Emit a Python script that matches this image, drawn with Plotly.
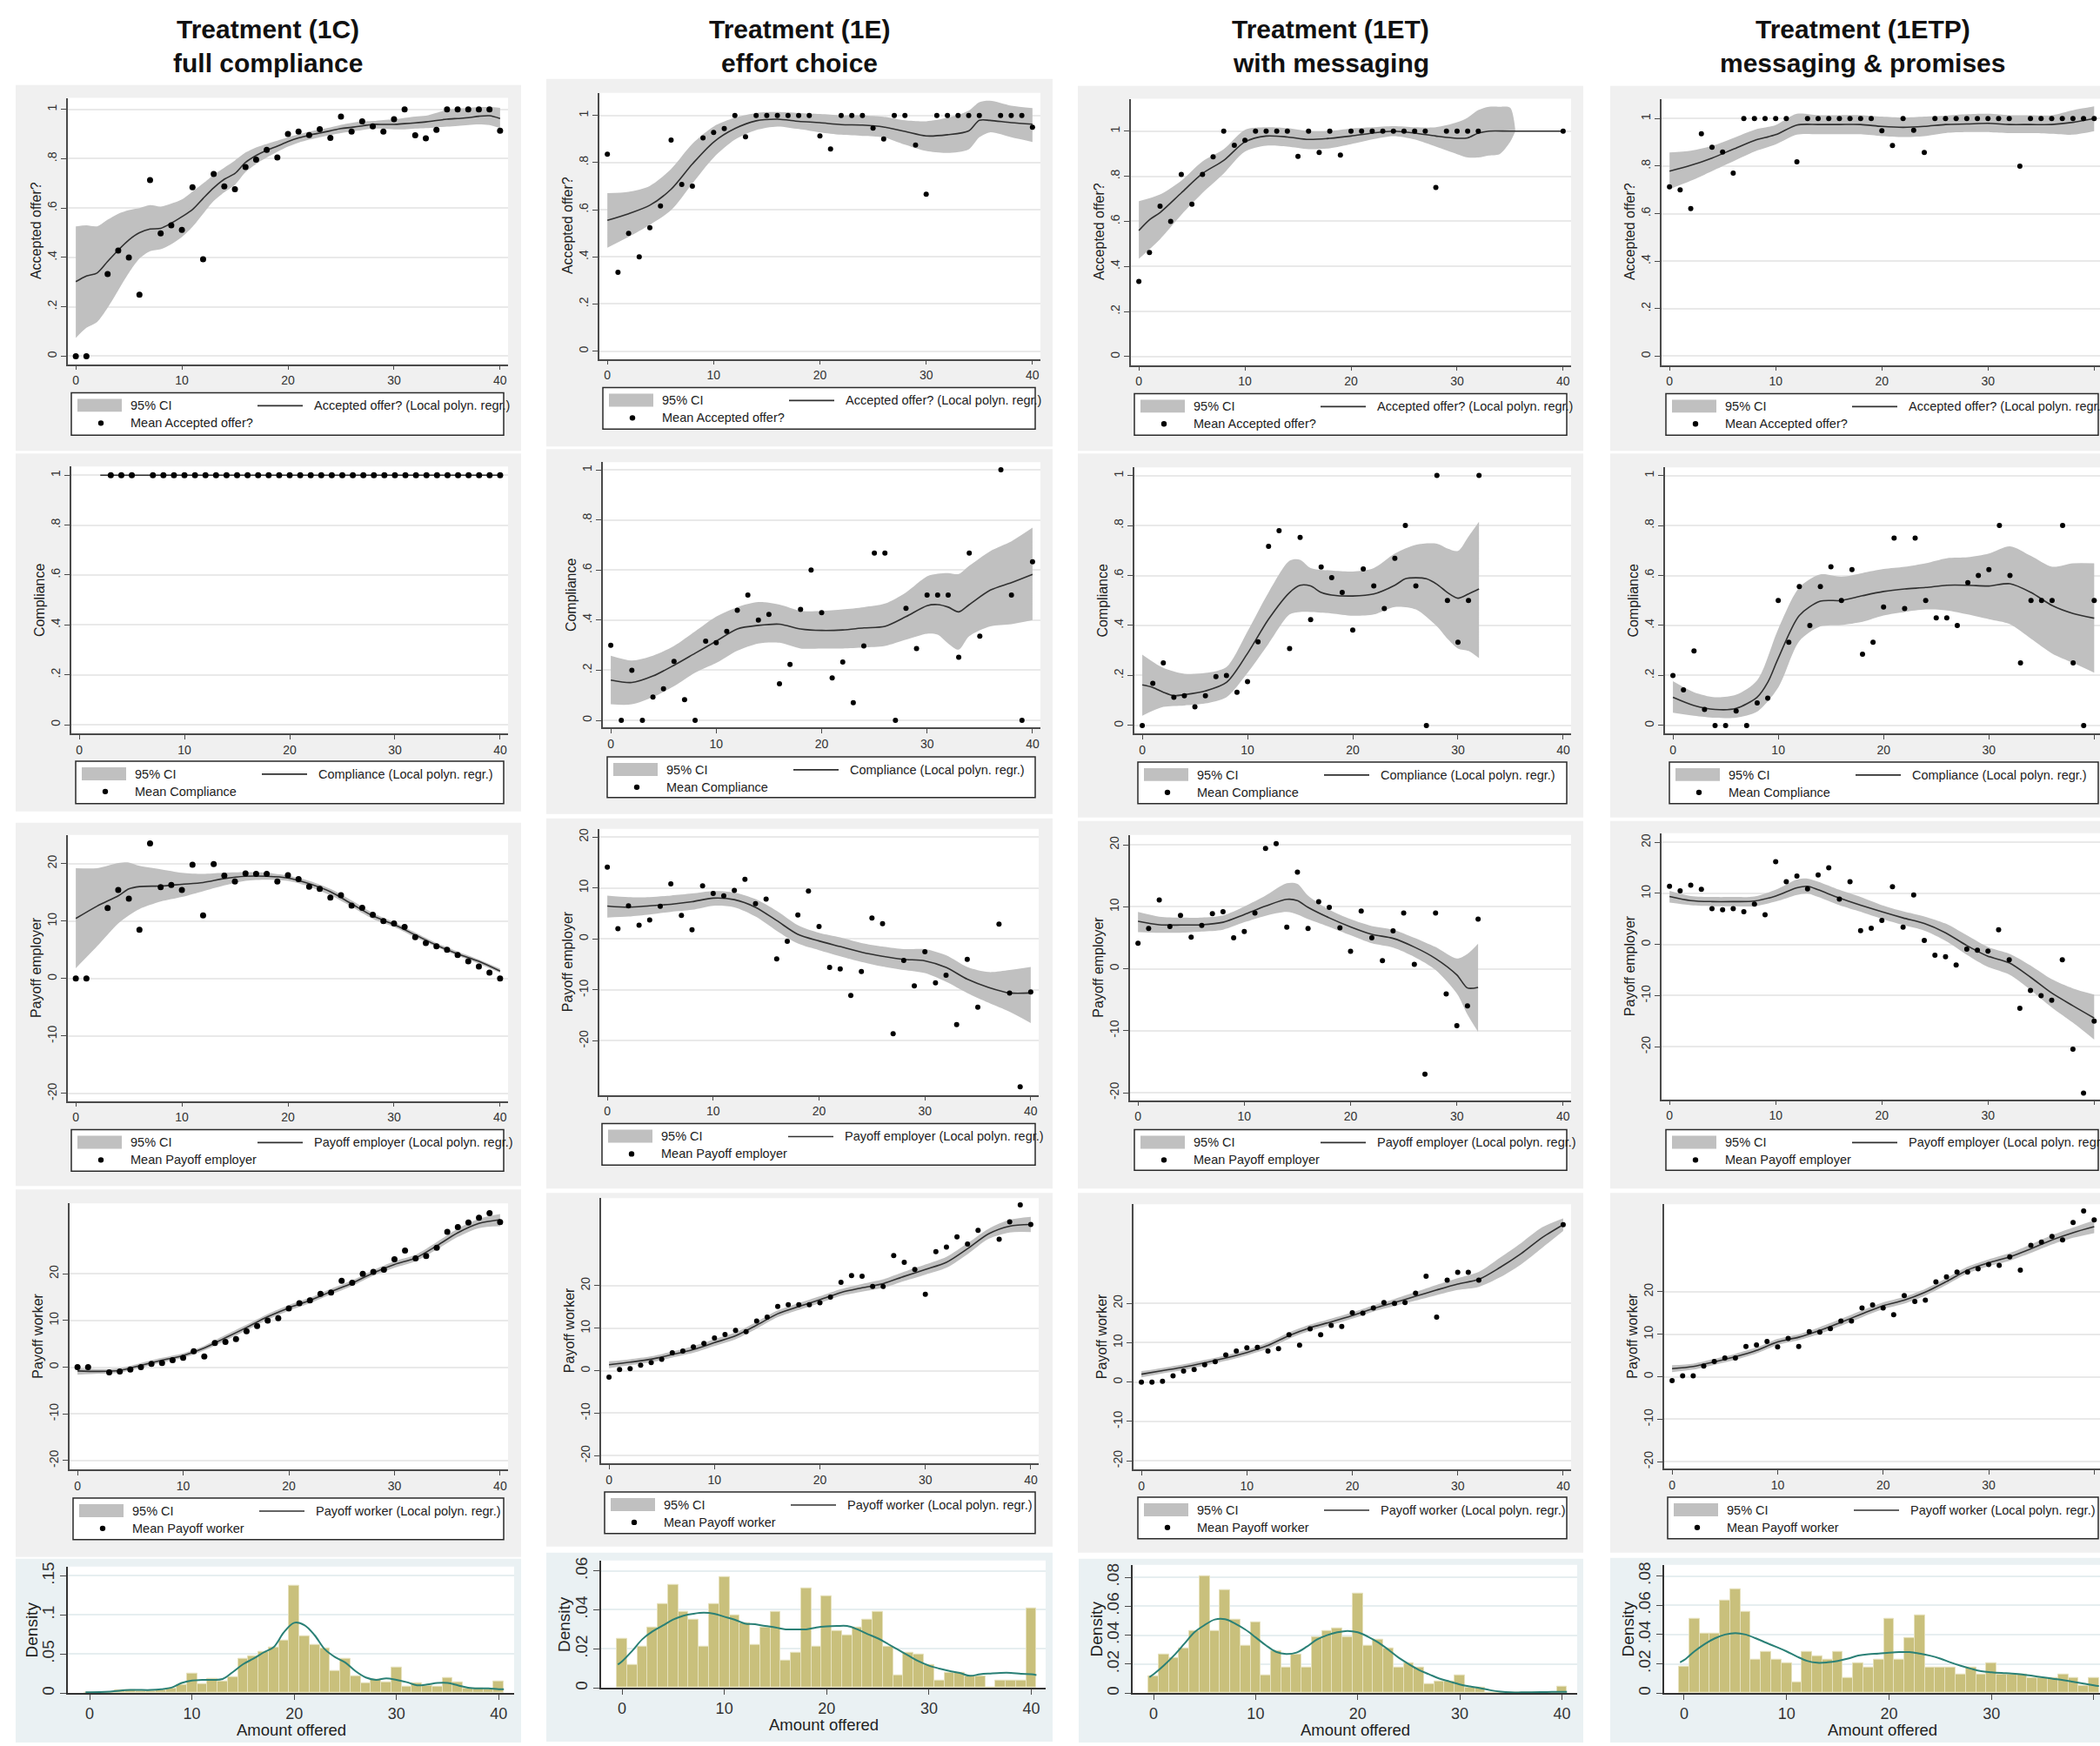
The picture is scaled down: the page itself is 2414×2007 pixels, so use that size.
import plotly.graph_objects as go

W, H = 2414, 2007
FONT = "Liberation Sans, Arial, sans-serif"

AMOUNT = list(range(41))
EVERY2 = list(range(0, 41, 2))
N = None

COL_TITLES = ["Treatment (1C)", "Treatment (1E)", "Treatment (1ET)", "Treatment (1ETP)"]
COL_SUBTITLES = ["full compliance", "effort choice", "with messaging", "messaging & promises"]
OUTCOMES = ["Accepted offer?", "Compliance", "Payoff employer", "Payoff worker"]
X_TICKS = [0, 10, 20, 30, 40]
SHARE_TICKS = [0, 0.2, 0.4, 0.6, 0.8, 1]
SHARE_LABELS = ["0", ".2", ".4", ".6", ".8", "1"]
PAY_TICKS = [-20, -10, 0, 10, 20]
PAY_LABELS = ["-20", "-10", "0", "10", "20"]
HIST_TICKS = [[0, 0.05, 0.1, 0.15], [0, 0.02, 0.04, 0.06],
              [0, 0.02, 0.04, 0.06, 0.08], [0, 0.02, 0.04, 0.06, 0.08]]
HIST_LABELS = [["0", ".05", ".1", ".15"], ["0", ".02", ".04", ".06"],
               ["0", ".02", ".04", ".06", ".08"], ["0", ".02", ".04", ".06", ".08"]]

# ---------------- Column 1: Treatment (1C) ----------------
c1_acc_pts = [0, 0, N, 0.333, 0.428, 0.40, 0.249, 0.713, 0.498, 0.53, 0.512, 0.684, 0.393, 0.738, 0.688,
              0.676, 0.766, 0.796, 0.836, 0.805, 0.90, 0.91, 0.896, 0.92, 0.884, 0.971, 0.91, 0.951, 0.931,
              0.91, 0.96, 1.0, 0.895, 0.883, 0.917, 1, 1, 1, 1, 1, 0.913]
c1_acc_fit = [0.302, 0.325, 0.337, 0.384, 0.43, 0.471, 0.50, 0.515, 0.518, 0.539, 0.565, 0.594, 0.639, 0.682,
              0.717, 0.74, 0.785, 0.813, 0.834, 0.851, 0.869, 0.884, 0.895, 0.904, 0.913, 0.922, 0.927, 0.933,
              0.939, 0.939, 0.939, 0.942, 0.945, 0.949, 0.955, 0.960, 0.963, 0.966, 0.972, 0.974, 0.963]
c1_acc_hi = [0.526, 0.53, 0.526, 0.553, 0.577, 0.592, 0.60, 0.612, 0.606, 0.618, 0.635, 0.667, 0.70, 0.735,
             0.764, 0.793, 0.825, 0.846, 0.86, 0.873, 0.887, 0.898, 0.91, 0.918, 0.927, 0.937, 0.945, 0.951,
             0.953, 0.957, 0.959, 0.965, 0.971, 0.974, 0.986, 0.998, 1.003, 1.006, 1.009, 1.009, 1.006]
c1_acc_lo = [0.074, 0.115, 0.138, 0.196, 0.267, 0.337, 0.395, 0.425, 0.433, 0.454, 0.483, 0.524, 0.577, 0.629,
             0.664, 0.694, 0.746, 0.779, 0.805, 0.828, 0.849, 0.865, 0.877, 0.887, 0.896, 0.904, 0.91, 0.916,
             0.922, 0.922, 0.919, 0.919, 0.922, 0.924, 0.927, 0.93, 0.933, 0.936, 0.939, 0.936, 0.924]

c1_comp_pts = [N, N, N, 1, 1, 1, N] + [1] * 34
c1_comp_x = [2, 40]
c1_comp_fit = [1, 1]
c1_comp_hi = [1, 1]
c1_comp_lo = [1, 1]

c1_emp_pts = [0, 0, N, 12.26, 15.4, 13.9, 8.5, 23.5, 15.9, 16.3, 15.4, 19.8, 11.0, 19.9, 17.9, 16.9, 18.3,
              18.2, 18.2, 16.9, 18.0, 17.3, 16.0, 15.6, 14.1, 14.5, 12.7, 12.3, 11.1, 10.0, 9.6, 9.0, 7.2,
              6.2, 5.6, 5.0, 4.1, 3.0, 2.1, 1.05, 0]
c1_emp_x = [0, 2, 4, 5, 6, 8, 10, 12, 14, 16, 18, 20, 22, 24, 26, 28, 30, 32, 34, 36, 38, 40]
c1_emp_fit = [10.45, 12.6, 14.4, 15.6, 16.0, 16.1, 16.4, 16.7, 17.4, 17.8, 17.8, 17.5, 16.5, 15.1, 13.0,
              10.9, 9.4, 7.6, 5.8, 4.3, 3.0, 1.3]
c1_emp_hi = [19.2, 19.2, 20.1, 20.2, 19.6, 19.0, 18.4, 18.2, 18.4, 18.5, 18.4, 17.9, 17.0, 15.6, 13.6, 11.4,
             9.8, 8.0, 6.2, 4.7, 3.3, 1.7]
c1_emp_lo = [1.8, 5.6, 9.6, 11.0, 12.1, 13.4, 14.2, 15.2, 16.2, 17.0, 17.2, 17.0, 16.0, 14.5, 12.5, 10.4,
             9.0, 7.2, 5.5, 4.0, 2.6, 1.0]

c1_wrk_pts = [0, 0, N, -1.1, -0.9, -0.5, 0, 0.7, 0.9, 1.5, 2.0, 3.4, 2.3, 5.2, 5.4, 6.0, 7.7, 8.8, 10.0,
              10.5, 12.6, 13.7, 14.3, 15.7, 16.0, 18.5, 18.1, 20.0, 20.4, 20.9, 23.1, 25.0, 23.3, 23.8, 25.6,
              29.0, 30.0, 31.0, 32.0, 33.0, 31.1]
c1_wrk_fit = [-0.8, -0.9, -0.7, 0.4, 1.5, 2.5, 4.1, 6.3, 8.5, 10.8, 12.7, 14.3, 16.2, 18.0, 20.2, 22.0, 23.4,
              26.0, 28.8, 30.8, 31.6]
c1_wrk_hi = [-0.2, -0.4, -0.2, 0.9, 2.0, 3.0, 4.6, 6.9, 9.1, 11.4, 13.3, 14.9, 16.8, 18.6, 20.8, 22.7, 24.1,
             26.8, 29.7, 31.8, 32.8]
c1_wrk_lo = [-1.6, -1.4, -1.2, -0.1, 1.0, 2.0, 3.6, 5.7, 7.9, 10.2, 12.1, 13.7, 15.6, 17.4, 19.6, 21.3, 22.7,
             25.2, 27.9, 29.8, 30.2]

c1_hist = [0.001, 0.001, 0, 0.004, 0.004, 0.003, 0.003, 0.004, 0.006, 0.011, 0.025, 0.012, 0.018, 0.015,
           0.021, 0.044, 0.047, 0.053, 0.059, 0.067, 0.138, 0.073, 0.062, 0.057, 0.028, 0.044, 0.022, 0.013,
           0.017, 0.014, 0.033, 0.008, 0.013, 0.010, 0.008, 0.020, 0.014, 0.006, 0.006, 0.005, 0.015]
c1_kde_x = [-0.4, 0, 2, 4, 6] + list(range(7, 41)) + [40.5]
c1_kde = [0.001, 0.001, 0.002, 0.004, 0.004, 0.005, 0.007, 0.013, 0.016, 0.017, 0.017, 0.018, 0.027, 0.037,
          0.044, 0.052, 0.059, 0.078, 0.090, 0.087, 0.074, 0.056, 0.046, 0.039, 0.028, 0.020, 0.017, 0.019,
          0.017, 0.014, 0.010, 0.011, 0.013, 0.013, 0.010, 0.007, 0.006, 0.006, 0.005, 0.005]

# ---------------- Column 2: Treatment (1E) ----------------
c2_acc_pts = [0.835, 0.334, 0.50, 0.40, 0.524, 0.616, 0.895, 0.707, 0.70, 0.905, 0.928, 0.944, 1, 0.909, 1,
              1, 1, 1, 1, 1, 0.913, 0.858, 1, 1, 1, 0.946, 0.90, 1, 1, 0.874, 0.666, 1, 1, 1, 1, 1, N, 1, 1,
              1, 0.95]
c2_acc_x = list(range(0, 35, 2)) + [35, 36, 38, 40]
c2_acc_fit = [0.555, 0.583, 0.619, 0.687, 0.794, 0.887, 0.944, 0.977, 0.984, 0.975, 0.969, 0.961, 0.959,
              0.951, 0.932, 0.913, 0.918, 0.934, 0.979, 0.979, 0.969, 0.963]
c2_acc_hi = [0.67, 0.676, 0.701, 0.773, 0.88, 0.953, 0.99, 1.01, 1.014, 1.01, 1.006, 1.0, 1.0, 0.994, 0.979,
             0.975, 0.99, 1.02, 1.056, 1.062, 1.041, 1.031]
c2_acc_lo = [0.439, 0.485, 0.536, 0.598, 0.711, 0.821, 0.897, 0.938, 0.953, 0.942, 0.928, 0.918, 0.913,
             0.907, 0.876, 0.849, 0.841, 0.856, 0.907, 0.928, 0.907, 0.887]

c2_comp_pts = [0.30, 0, 0.20, 0, 0.093, 0.126, 0.235, 0.083, 0, 0.316, 0.31, 0.355, 0.439, 0.50, 0.40, 0.423,
               0.146, 0.223, 0.443, 0.60, 0.43, 0.169, 0.233, 0.07, 0.297, 0.668, 0.668, 0, 0.447, 0.287,
               0.50, 0.50, 0.50, 0.252, 0.668, 0.336, N, 1.0, 0.50, 0, 0.633]
c2_comp_x = list(range(0, 31, 2)) + [31, 32, 33, 34, 36, 38, 40]
c2_comp_fit = [0.161, 0.151, 0.177, 0.22, 0.268, 0.316, 0.365, 0.379, 0.384, 0.365, 0.359, 0.361, 0.369,
               0.375, 0.414, 0.458, 0.462, 0.452, 0.433, 0.462, 0.52, 0.55, 0.583]
c2_comp_hi = [0.258, 0.239, 0.258, 0.297, 0.355, 0.414, 0.452, 0.472, 0.462, 0.437, 0.437, 0.443, 0.452,
              0.466, 0.511, 0.575, 0.585, 0.588, 0.584, 0.617, 0.676, 0.715, 0.769]
c2_comp_lo = [0.064, 0.064, 0.093, 0.136, 0.19, 0.229, 0.278, 0.307, 0.31, 0.287, 0.287, 0.287, 0.291,
              0.297, 0.322, 0.346, 0.342, 0.307, 0.282, 0.336, 0.375, 0.384, 0.40]

c2_emp_pts = [14.1, 2.0, 6.5, 2.7, 3.7, 6.4, 10.8, 4.6, 1.8, 10.4, 8.9, 8.45, 9.5, 11.7, 6.9, 7.8, -3.9,
              -0.45, 4.7, 9.4, 2.45, -5.6, -5.9, -11.1, -6.4, 4.1, 3.0, -18.6, -4.2, -9.2, -2.5, -8.6, -7.1,
              -16.8, -4.0, -13.4, N, 2.9, -10.6, -29.0, -10.4]
c2_emp_fit = [6.45, 6.2, 6.5, 6.8, 7.3, 8.0, 7.7, 6.2, 3.6, 0.9, -0.4, -1.5, -2.6, -3.4, -4.0, -4.3, -5.6,
              -7.9, -9.5, -10.6, -10.6]
c2_emp_hi = [8.5, 8.2, 8.2, 8.5, 8.9, 9.4, 9.1, 7.8, 5.5, 2.7, 1.2, 0.3, -0.8, -1.5, -2.0, -2.0, -3.2, -5.5,
             -6.5, -6.1, -5.5]
c2_emp_lo = [4.2, 4.4, 4.8, 5.3, 5.7, 6.5, 6.2, 4.4, 1.6, -0.9, -2.2, -3.4, -4.5, -5.4, -6.1, -6.7, -8.4,
             -10.6, -12.5, -14.3, -16.5]

c2_wrk_pts = [-1.5, 0.3, 0.5, 1.3, 1.9, 2.7, 4.2, 4.6, 5.6, 6.4, 7.7, 8.5, 9.5, 9.2, 11.7, 12.6, 15.1, 15.5,
              15.5, 15.5, 16.0, 17.3, 20.8, 22.4, 22.2, 19.8, 19.8, 27.1, 25.5, 23.8, 18.0, 28.0, 29.1, 31.5,
              29.8, 33.0, N, 30.9, 35.0, 39.0, 34.4]
c2_wrk_fit = [1.4, 2.0, 2.7, 3.8, 5.0, 6.6, 8.2, 10.7, 13.4, 15.1, 16.7, 18.4, 19.5, 20.5, 22.2, 23.8, 25.5,
              28.7, 32.2, 34.0, 34.4]
c2_wrk_hi = [2.2, 2.7, 3.4, 4.5, 5.8, 7.4, 9.0, 11.5, 14.2, 15.9, 17.5, 19.2, 20.4, 21.5, 23.3, 25.0, 26.8,
             30.0, 33.4, 35.5, 36.2]
c2_wrk_lo = [0.6, 1.3, 2.0, 3.1, 4.2, 5.8, 7.4, 9.9, 12.6, 14.3, 15.9, 17.6, 18.6, 19.5, 21.1, 22.6, 24.2,
             27.4, 31.0, 32.5, 32.6]

c2_hist = [0.025, 0.012, 0.021, 0.031, 0.043, 0.053, 0.039, 0.035, 0.021, 0.043, 0.057, 0.037, 0.033, 0.022,
           0.031, 0.039, 0.014, 0.018, 0.051, 0.021, 0.047, 0.029, 0.027, 0.031, 0.035, 0.039, 0.021, 0.0065,
           0.018, 0.017, 0.012, 0.004, 0.008, 0.008, 0.006, 0.006, 0, 0.004, 0.004, 0.004, 0.041]
c2_kde_x = [-0.4] + list(range(41)) + [40.5]
c2_kde = [0.012, 0.0136, 0.019, 0.025, 0.029, 0.032, 0.035, 0.037, 0.038, 0.0385, 0.038, 0.0365, 0.035,
          0.033, 0.0326, 0.0317, 0.031, 0.030, 0.030, 0.030, 0.031, 0.0315, 0.0317, 0.0317, 0.030, 0.0276,
          0.0254, 0.0225, 0.0195, 0.0165, 0.0136, 0.0114, 0.0099, 0.0087, 0.0077, 0.0062, 0.007, 0.0074,
          0.0077, 0.0077, 0.0072, 0.007, 0.0066]

# ---------------- Column 3: Treatment (1ET) ----------------
c3_acc_pts = [0.333, 0.462, 0.667, 0.60, 0.808, 0.676, 0.808, 0.886, 1, 0.937, 0.959, 1, 1, 1, 1, 0.888, 1,
              0.905, 1, 0.894, 1, 1, 1, 1, 1, 1, 1, 1, 0.75, 1, 1, 1, 1, N, N, N, N, N, N, N, 1]
c3_acc_x = [0, 1, 2, 4, 6, 8, 10, 12, 14, 16, 18, 20, 22, 24, 26, 28, 30, 31, 32, 33, 35, 40]
c3_acc_fit = [0.559, 0.607, 0.639, 0.726, 0.812, 0.87, 0.952, 0.978, 0.974, 0.963, 0.968, 0.978, 0.991, 1.0,
              0.991, 0.978, 0.968, 0.97, 0.991, 1.0, 1.0, 1.0]
c3_acc_bx = list(range(0, 31, 2)) + [31, 32, 33, 34, 35, 35.5]
c3_acc_hi = [0.689, 0.719, 0.78, 0.866, 0.92, 1.006, 1.017, 1.013, 1.0, 1.0, 1.011, 1.017, 1.022, 1.017,
             1.017, 1.039, 1.06, 1.093, 1.108, 1.108, 1.104, 1.0]
c3_acc_lo = [0.434, 0.521, 0.629, 0.726, 0.812, 0.909, 0.935, 0.931, 0.92, 0.924, 0.942, 0.963, 0.978, 0.963,
             0.931, 0.898, 0.883, 0.883, 0.892, 0.898, 0.952, 1.0]

c3_comp_pts = [0, 0.168, 0.25, 0.113, 0.119, 0.074, 0.119, 0.195, 0.20, 0.133, 0.175, 0.335, 0.717, 0.779,
               0.308, 0.752, 0.423, 0.634, 0.591, 0.532, 0.382, 0.626, 0.558, 0.468, 0.669, 0.80, 0.558, 0, 1,
               0.50, 0.333, 0.50, 1, N, N, N, N, N, N, N, N]
c3_comp_x = [0, 1, 2, 3, 4, 6, 8, 10, 12, 14, 15, 16, 17, 18, 20, 22, 24, 25, 26, 27, 28, 29, 30, 31, 32]
c3_comp_fit = [0.162, 0.152, 0.133, 0.119, 0.123, 0.138, 0.172, 0.288, 0.425, 0.532, 0.561, 0.558, 0.532,
               0.522, 0.518, 0.526, 0.561, 0.587, 0.591, 0.587, 0.565, 0.532, 0.509, 0.526, 0.546]
c3_comp_bx = [0, 2, 4, 6, 8, 10, 12, 14, 15, 16, 18, 20, 22, 24, 26, 28, 29, 30, 31, 32]
c3_comp_hi = [0.283, 0.23, 0.207, 0.21, 0.234, 0.376, 0.532, 0.659, 0.663, 0.63, 0.62, 0.616, 0.63, 0.688,
              0.723, 0.727, 0.708, 0.698, 0.756, 0.815]
c3_comp_lo = [0.039, 0.074, 0.08, 0.088, 0.113, 0.21, 0.327, 0.444, 0.454, 0.454, 0.448, 0.439, 0.444, 0.474,
              0.464, 0.396, 0.347, 0.308, 0.298, 0.269]

c3_emp_pts = [4.1, 6.5, 11.1, 6.8, 8.6, 5.1, 7.0, 8.9, 9.2, 5.0, 6.0, 9.0, 19.4, 20.2, 6.7, 15.6, 6.5, 10.8,
              9.9, 6.6, 2.8, 9.3, 5.0, 1.3, 6.1, 9.0, 0.7, -17.0, 9.0, -4.05, -9.2, -6.0, 8.0,
              N, N, N, N, N, N, N, N]
c3_emp_x = [0, 2, 4, 6, 8, 10, 12, 14, 15, 16, 18, 20, 22, 24, 26, 28, 30, 31, 32]
c3_emp_fit = [7.65, 7.1, 7.05, 7.1, 7.5, 8.75, 10.1, 11.2, 11.0, 9.9, 8.2, 6.75, 5.55, 4.9, 3.5, 1.65, -1.0,
              -3.1, -3.0]
c3_emp_hi = [9.15, 8.4, 8.25, 8.25, 8.6, 10.05, 11.8, 13.8, 13.7, 11.8, 9.5, 8.0, 6.9, 6.3, 5.0, 3.5, 1.65,
             2.4, 4.05]
c3_emp_lo = [5.9, 5.8, 5.8, 6.0, 6.3, 7.5, 8.55, 9.15, 8.75, 8.0, 6.75, 5.4, 4.1, 3.4, 1.9, -0.2, -4.0, -7.4,
             -10.2]

c3_wrk_pts = [0, 0, 0.2, 1.6, 2.8, 3.2, 4.4, 5.2, 6.9, 7.9, 8.7, 8.8, 7.9, 8.5, 12.0, 9.4, 13.5, 12.0, 14.4,
              14.1, 17.6, 17.5, 18.8, 20.2, 20.0, 20.2, 22.6, 26.9, 16.5, 25.9, 27.9, 27.9, 25.9,
              N, N, N, N, N, N, N, 40.0]
c3_wrk_fit = [2.0, 2.9, 3.8, 4.9, 6.1, 7.5, 9.3, 11.8, 13.8, 15.3, 16.9, 18.7, 20.2, 21.8, 23.4, 24.9, 26.1,
              29.1, 32.6, 36.7, 40.0]
c3_wrk_hi = [2.8, 3.6, 4.5, 5.6, 6.8, 8.2, 10.1, 12.6, 14.6, 16.1, 17.7, 19.5, 21.1, 22.9, 24.7, 26.4, 28.0,
             31.6, 35.3, 39.3, 41.6]
c3_wrk_lo = [1.2, 2.2, 3.1, 4.2, 5.4, 6.8, 8.5, 11.0, 13.0, 14.5, 16.1, 17.9, 19.3, 20.7, 22.1, 23.4, 24.2,
             26.6, 29.9, 34.1, 38.4]

c3_hist = [0.012, 0.0265, 0.0245, 0.031, 0.043, 0.081, 0.043, 0.071, 0.051, 0.0325, 0.049, 0.0124, 0.029,
           0.018, 0.0265, 0.018, 0.0385, 0.043, 0.045, 0.0385, 0.069, 0.0325, 0.037, 0.031, 0.018, 0.0205,
           0.018, 0.0064, 0.0084, 0.0084, 0.0124, 0.004, 0.004, 0, 0, 0, 0, 0, 0, 0, 0.0044]
c3_kde_x = [-0.4] + list(range(41)) + [40.5]
c3_kde = [0.011, 0.013, 0.019, 0.026, 0.034, 0.042, 0.047, 0.0508, 0.051, 0.048, 0.0438, 0.0385, 0.033,
          0.0285, 0.027, 0.028, 0.032, 0.037, 0.040, 0.042, 0.043, 0.042, 0.039, 0.035, 0.030, 0.0245, 0.020,
          0.016, 0.013, 0.010, 0.008, 0.006, 0.0046, 0.0034, 0.002, 0.001, 0.0005, 0.0005, 0.0006, 0.0007,
          0.0008, 0.0009, 0.0009]

# ---------------- Column 4: Treatment (1ETP) ----------------
c4_acc_pts = [0.713, 0.70, 0.621, 0.936, 0.879, 0.859, 0.77, 1, 1, 1, 1, 1, 0.818, 1, 1, 1, 1, 1, 1, 1,
              0.949, 0.887, 1, 0.951, 0.857, 1, 1, 1, 1, 1, 1, 1, 1, 0.80, 1, 1, 1, 1, 1, 1, 1]
c4_acc_fit = [0.779, 0.803, 0.834, 0.871, 0.908, 0.932, 0.973, 0.975, 0.975, 0.975, 0.967, 0.963, 0.967,
              0.975, 0.977, 0.98, 0.975, 0.975, 0.975, 0.984, 1.0]
c4_acc_hi = [0.857, 0.865, 0.885, 0.918, 0.953, 0.973, 1.02, 1.014, 1.014, 1.014, 1.008, 1.004, 1.008, 1.012,
             1.018, 1.02, 1.014, 1.014, 1.014, 1.035, 1.051]
c4_acc_lo = [0.703, 0.738, 0.779, 0.82, 0.861, 0.891, 0.932, 0.934, 0.934, 0.934, 0.926, 0.922, 0.926, 0.939,
             0.943, 0.943, 0.939, 0.939, 0.936, 0.932, 0.947]

c4_comp_pts = [0.20, 0.142, 0.298, 0.064, 0, 0, 0.058, 0, 0.09, 0.109, 0.50, 0.333, 0.556, 0.40, 0.556,
               0.635, 0.50, 0.624, 0.285, 0.333, 0.474, 0.75, 0.468, 0.75, 0.50, 0.43, 0.43, 0.40, 0.571,
               0.60, 0.624, 0.80, 0.60, 0.25, 0.50, 0.50, 0.50, 0.80, 0.25, 0, 0.50]
c4_comp_x = [0, 2, 4, 6, 8, 9, 10, 12, 14, 16, 18, 20, 22, 24, 26, 28, 30, 32, 34, 36, 38, 40]
c4_comp_fit = [0.113, 0.08, 0.064, 0.068, 0.113, 0.172, 0.269, 0.44, 0.497, 0.50, 0.519, 0.536, 0.546,
               0.552, 0.561, 0.561, 0.558, 0.567, 0.532, 0.48, 0.448, 0.429]
c4_comp_hi = [0.177, 0.133, 0.113, 0.123, 0.181, 0.386, 0.552, 0.604, 0.595, 0.61, 0.626, 0.635, 0.649,
              0.669, 0.673, 0.688, 0.717, 0.678, 0.635, 0.649, 0.649]
c4_comp_lo = [0.051, 0.039, 0.031, 0.031, 0.055, 0.152, 0.337, 0.396, 0.402, 0.415, 0.44, 0.454, 0.464,
              0.46, 0.444, 0.425, 0.405, 0.347, 0.288, 0.25, 0.211]

c4_emp_pts = [11.4, 10.5, 11.6, 10.8, 7.0, 6.8, 7.0, 6.4, 7.9, 5.8, 16.2, 12.3, 13.4, 10.9, 13.6, 15.0, 8.9,
              12.3, 2.7, 3.2, 4.7, 11.3, 3.4, 9.7, 0.8, -2.1, -2.4, -4.0, -0.9, -1.1, -1.3, 2.9, -3.0, -12.5,
              -9.0, -10.0, -10.9, -3.0, -20.5, -29.1, -15.0]
c4_emp_x = [0, 2, 4, 6, 8, 10, 12, 13] + list(range(14, 41, 2))
c4_emp_fit = [9.4, 8.6, 8.4, 8.4, 8.5, 9.5, 11.1, 11.4, 10.7, 9.1, 7.7, 6.4, 5.2, 4.1, 2.3, -0.2, -2.3, -3.6,
              -6.4, -9.5, -12.0, -14.4]
c4_emp_hi = [10.5, 9.5, 9.3, 9.3, 9.4, 10.7, 12.7, 12.9, 12.3, 10.7, 9.3, 7.7, 6.5, 5.5, 4.1, 1.8, -0.5,
             -1.8, -4.1, -6.8, -8.6, -9.8]
c4_emp_lo = [8.2, 7.7, 7.5, 7.5, 7.5, 8.4, 9.7, 10.0, 9.3, 7.7, 6.4, 5.0, 3.8, 2.7, 0.7, -2.0, -4.4, -5.9,
             -8.9, -12.3, -15.3, -18.6]

c4_wrk_pts = [-0.9, 0.2, 0.2, 2.5, 3.6, 4.4, 4.4, 7.1, 7.5, 8.3, 7.0, 9.0, 7.1, 10.6, 10.5, 11.3, 13.1, 13.1,
              16.2, 16.9, 16.2, 14.6, 19.1, 17.7, 18.0, 22.3, 23.5, 24.6, 24.6, 25.4, 26.4, 26.2, 28.2, 25.1,
              30.9, 31.7, 33.0, 32.2, 36.3, 39.0, 36.9]
c4_wrk_fit = [1.9, 2.4, 3.5, 4.7, 6.2, 8.2, 9.3, 10.9, 12.8, 14.8, 16.7, 18.0, 19.9, 22.4, 25.1, 26.8, 28.2,
              30.1, 32.2, 33.9, 35.3]
c4_wrk_hi = [2.7, 3.1, 4.2, 5.4, 6.9, 8.9, 10.0, 11.7, 13.6, 15.6, 17.5, 18.8, 20.7, 23.2, 25.9, 27.6, 29.1,
             31.1, 33.3, 35.1, 36.8]
c4_wrk_lo = [1.1, 1.7, 2.8, 4.0, 5.5, 7.5, 8.6, 10.1, 12.0, 14.0, 15.9, 17.2, 19.1, 21.6, 24.3, 26.0, 27.3,
             29.1, 31.1, 32.7, 33.8]

c4_hist = [0.018, 0.0506, 0.0407, 0.0407, 0.063, 0.071, 0.0557, 0.0226, 0.028, 0.0226, 0.0207, 0.0075, 0.028,
           0.025, 0.0226, 0.028, 0.0104, 0.0207, 0.0177, 0.0226, 0.0506, 0.0226, 0.038, 0.053, 0.0177, 0.0177,
           0.0177, 0.0128, 0.0177, 0.0128, 0.0207, 0.0128, 0.0128, 0.0128, 0.0104, 0.0104, 0.0104, 0.0128,
           0.0104, 0.0053, 0.0104]
c4_kde_x = [-0.4] + list(range(41)) + [40.5]
c4_kde = [0.021, 0.0226, 0.0285, 0.0335, 0.0374, 0.040, 0.041, 0.040, 0.0374, 0.0344, 0.0315, 0.0285, 0.025,
          0.022, 0.0207, 0.021, 0.022, 0.0236, 0.0256, 0.0266, 0.027, 0.0276, 0.028, 0.028, 0.027, 0.0256,
          0.0236, 0.021, 0.0187, 0.0167, 0.015, 0.0143, 0.0138, 0.0134, 0.0128, 0.0118, 0.0108, 0.0098,
          0.0089, 0.0077, 0.0065, 0.0053, 0.0048]

# ---------------- assembling tables ----------------
PANELS = [
    [dict(pts=c1_acc_pts, fx=AMOUNT, fit=c1_acc_fit, bx=AMOUNT, lo=c1_acc_lo, hi=c1_acc_hi),
     dict(pts=c1_comp_pts, fx=c1_comp_x, fit=c1_comp_fit, bx=c1_comp_x, lo=c1_comp_lo, hi=c1_comp_hi),
     dict(pts=c1_emp_pts, fx=c1_emp_x, fit=c1_emp_fit, bx=c1_emp_x, lo=c1_emp_lo, hi=c1_emp_hi),
     dict(pts=c1_wrk_pts, fx=EVERY2, fit=c1_wrk_fit, bx=EVERY2, lo=c1_wrk_lo, hi=c1_wrk_hi)],
    [dict(pts=c2_acc_pts, fx=c2_acc_x, fit=c2_acc_fit, bx=c2_acc_x, lo=c2_acc_lo, hi=c2_acc_hi),
     dict(pts=c2_comp_pts, fx=c2_comp_x, fit=c2_comp_fit, bx=c2_comp_x, lo=c2_comp_lo, hi=c2_comp_hi),
     dict(pts=c2_emp_pts, fx=EVERY2, fit=c2_emp_fit, bx=EVERY2, lo=c2_emp_lo, hi=c2_emp_hi),
     dict(pts=c2_wrk_pts, fx=EVERY2, fit=c2_wrk_fit, bx=EVERY2, lo=c2_wrk_lo, hi=c2_wrk_hi)],
    [dict(pts=c3_acc_pts, fx=c3_acc_x, fit=c3_acc_fit, bx=c3_acc_bx, lo=c3_acc_lo, hi=c3_acc_hi),
     dict(pts=c3_comp_pts, fx=c3_comp_x, fit=c3_comp_fit, bx=c3_comp_bx, lo=c3_comp_lo, hi=c3_comp_hi),
     dict(pts=c3_emp_pts, fx=c3_emp_x, fit=c3_emp_fit, bx=c3_emp_x, lo=c3_emp_lo, hi=c3_emp_hi),
     dict(pts=c3_wrk_pts, fx=EVERY2, fit=c3_wrk_fit, bx=EVERY2, lo=c3_wrk_lo, hi=c3_wrk_hi)],
    [dict(pts=c4_acc_pts, fx=EVERY2, fit=c4_acc_fit, bx=EVERY2, lo=c4_acc_lo, hi=c4_acc_hi),
     dict(pts=c4_comp_pts, fx=c4_comp_x, fit=c4_comp_fit, bx=EVERY2, lo=c4_comp_lo, hi=c4_comp_hi),
     dict(pts=c4_emp_pts, fx=c4_emp_x, fit=c4_emp_fit, bx=c4_emp_x, lo=c4_emp_lo, hi=c4_emp_hi),
     dict(pts=c4_wrk_pts, fx=EVERY2, fit=c4_wrk_fit, bx=EVERY2, lo=c4_wrk_lo, hi=c4_wrk_hi)],
]
HISTS = [(c1_hist, c1_kde_x, c1_kde), (c2_hist, c2_kde_x, c2_kde),
         (c3_hist, c3_kde_x, c3_kde), (c4_hist, c4_kde_x, c4_kde)]

# ---------------- geometry (pixels) ----------------
PLOT_BOX = [
    [(78, 584, 108, 415), (82, 584, 533, 841), (78, 584, 958, 1265), (80, 584, 1383, 1690)],
    [(689, 1196, 102, 409), (693, 1196, 528, 834), (689, 1194, 951, 1258), (691, 1194, 1377, 1683)],
    [(1300, 1806, 109, 416), (1304, 1806, 534, 841), (1299, 1806, 958, 1264), (1303, 1806, 1384, 1690)],
    [(1910, 2414, 109, 416), (1914, 2414, 534, 841), (1910, 2414, 956, 1263), (1913, 2414, 1384, 1689)],
]
Y_RANGE = [
    [(-0.032, 1.046), (-0.035, 1.035), (-21.3, 25.0), (-21.9, 35.1)],
    [(-0.033, 1.096), (-0.028, 1.031), (-30.6, 21.6), (-21.8, 40.6)],
    [(-0.037, 1.143), (-0.032, 1.033), (-21.2, 21.6), (-22.2, 45.2)],
    [(-0.037, 1.083), (-0.032, 1.033), (-30.3, 21.8), (-21.6, 40.6)],
]
X_RANGE = [(-0.75, 40.75), (-0.75, 40.75), (-0.75, 40.75), (-0.75, 40.55)]
BG_BOX = [
    [(18, 599, 93, 515), (18, 599, 518, 931), (18, 599, 944, 1363), (18, 599, 1367, 1791)],
    [(628, 1210, 86, 510), (628, 1210, 513, 934), (628, 1210, 939, 1366), (628, 1210, 1371, 1779)],
    [(1239, 1820, 94, 515), (1239, 1820, 518, 938), (1239, 1820, 942, 1366), (1239, 1820, 1371, 1786)],
    [(1851, 2414, 94, 515), (1851, 2414, 518, 938), (1851, 2414, 942, 1366), (1851, 2414, 1371, 1786)],
]
LEG_BOX = [
    [(82, 579, 448, 497), (87, 579, 873, 922), (82, 579, 1298, 1346), (84, 579, 1723, 1771)],
    [(693, 1190, 442, 490), (698, 1190, 868, 915), (692, 1190, 1291, 1339), (695, 1190, 1716, 1764)],
    [(1304, 1801, 449, 497), (1308, 1801, 874, 922), (1304, 1801, 1298, 1345), (1308, 1801, 1722, 1770)],
    [(1915, 2412, 449, 497), (1919, 2412, 874, 922), (1915, 2412, 1298, 1345), (1917, 2412, 1722, 1770)],
]
HIST_BOX = [(78, 591, 1802, 1948), (691, 1202, 1795, 1942), (1302, 1813, 1800, 1948), (1913, 2414, 1800, 1948)]
HIST_BG = [(18, 599, 1793, 2005), (628, 1210, 1786, 2004), (1240, 1820, 1793, 2005), (1851, 2414, 1792, 2005)]
HIST_XR = [(-2.13, 41.5), (-2.04, 41.4), (-2.05, 41.5), (-1.95, 40.6)]
HIST_YR = [(0, 0.162), (0, 0.0653), (0, 0.0886), (0, 0.0876)]
TITLE_X = [308.5, 919, 1529.5, 2141]

PANEL_GRAY = "#f0f0f0"
HIST_BGC = "#eaf1f3"
BAND = "#c0c0c0"
AXC = "#4a4a4a"
GRIDC = "#e9e9e9"
TXT = "#222222"

fig = go.Figure()
shapes, annots = [], []


def rect(x0, x1, y0, y1, fill, line=None, lw=0, layer="below"):
    shapes.append(dict(type="rect", xref="paper", yref="paper", x0=x0 / W, x1=x1 / W,
                       y0=1 - y1 / H, y1=1 - y0 / H, fillcolor=fill, layer=layer,
                       line=dict(color=line if line else fill, width=lw)))


def label(x, y, s, size, anchor="left", angle=0, color=TXT):
    annots.append(dict(xref="paper", yref="paper", x=x / W, y=1 - y / H, text=s, showarrow=False,
                       xanchor=anchor, yanchor="middle", textangle=angle,
                       font=dict(family=FONT, size=size, color=color)))


# backgrounds
for c in range(4):
    for r in range(4):
        rect(*BG_BOX[c][r], PANEL_GRAY)
    rect(*HIST_BG[c], HIST_BGC)
for c in range(4):
    for r in range(4):
        l, rr, t, b = PLOT_BOX[c][r]
        rect(l, rr, t, b, "white")
    l, rr, t, b = HIST_BOX[c]
    rect(l, rr, t, b, "white")

axes = {}
k = 0
for c in range(4):
    msize = 7 if c == 0 else 6
    for r in range(4):
        k += 1
        p = PANELS[c][r]
        xr = "x" if k == 1 else f"x{k}"
        yr = "y" if k == 1 else f"y{k}"
        # CI band
        fig.add_trace(go.Scatter(x=p["bx"], y=p["lo"], mode="lines",
                                 line=dict(width=0, shape="spline", smoothing=0.8),
                                 hoverinfo="skip", showlegend=False, xaxis=xr, yaxis=yr))
        fig.add_trace(go.Scatter(x=p["bx"], y=p["hi"], mode="lines",
                                 line=dict(width=0, shape="spline", smoothing=0.8),
                                 fill="tonexty", fillcolor=BAND, name="95% CI", showlegend=False,
                                 xaxis=xr, yaxis=yr))
        fig.add_trace(go.Scatter(x=p["fx"], y=p["fit"], mode="lines",
                                 line=dict(color="#303030", width=1.6, shape="spline", smoothing=0.8),
                                 name=OUTCOMES[r] + " (Local polyn. regr.)", showlegend=False,
                                 xaxis=xr, yaxis=yr))
        fig.add_trace(go.Scatter(x=AMOUNT, y=p["pts"], mode="markers",
                                 marker=dict(color="black", size=msize),
                                 name="Mean " + OUTCOMES[r], showlegend=False, xaxis=xr, yaxis=yr))
        l, rr, t, b = PLOT_BOX[c][r]
        share = r < 2
        axes["xaxis" if k == 1 else f"xaxis{k}"] = dict(
            domain=[l / W, rr / W], range=list(X_RANGE[c]), anchor=yr, tickmode="array", tickvals=X_TICKS,
            ticks="outside", ticklen=5, tickwidth=1.3, tickcolor=AXC, showline=True, linecolor=AXC,
            linewidth=1.5, showgrid=False, zeroline=False, tickfont=dict(family=FONT, size=14, color="#333"))
        axes["yaxis" if k == 1 else f"yaxis{k}"] = dict(
            domain=[1 - b / H, 1 - t / H], range=list(Y_RANGE[c][r]), anchor=xr, tickmode="array",
            tickvals=SHARE_TICKS if share else PAY_TICKS, ticktext=SHARE_LABELS if share else PAY_LABELS,
            tickangle=-90, ticks="outside", ticklen=6, tickwidth=1.3, tickcolor=AXC, showline=True,
            linecolor=AXC, linewidth=1.5, showgrid=True, gridcolor=GRIDC, gridwidth=1.6, zeroline=False,
            tickfont=dict(family=FONT, size=14, color="#333"))
        # y title
        label(l - 36.5, (t + b) / 2, OUTCOMES[r], 16, anchor="center", angle=-90)
        # legend
        L, R, T, B = LEG_BOX[c][r]
        rect(L, R, T, B, "white", line="#2a2a2a", lw=1.5, layer="above")
        rect(L + 7, L + 58, T + 7, T + 22, BAND, layer="above")
        shapes.append(dict(type="line", xref="paper", yref="paper", x0=(L + 214) / W, x1=(L + 266) / W,
                           y0=1 - (T + 15) / H, y1=1 - (T + 15) / H, line=dict(color="#303030", width=1.6),
                           layer="above"))
        rad = 3.2
        shapes.append(dict(type="circle", xref="paper", yref="paper", x0=(L + 34 - rad) / W,
                           x1=(L + 34 + rad) / W, y0=1 - (T + 35 + rad) / H, y1=1 - (T + 35 - rad) / H,
                           fillcolor="black", line=dict(color="black", width=0), layer="above"))
        label(L + 66, T + 15, "95% CI", 14.5)
        label(L + 277, T + 15, OUTCOMES[r] + " (Local polyn. regr.)", 14.5)
        label(L + 66, T + 35, "Mean " + OUTCOMES[r], 14.5)

    # histogram row
    k += 1
    hist, kx, kd = HISTS[c]
    xr = f"x{k}"
    yr = f"y{k}"
    fig.add_trace(go.Bar(x=AMOUNT, y=hist, width=1,
                         marker=dict(color="#c9c07c", line=dict(color="#e6e1bd", width=1)),
                         name="Density", showlegend=False, xaxis=xr, yaxis=yr))
    fig.add_trace(go.Scatter(x=kx, y=kd, mode="lines", line=dict(color="#2a8076", width=2, shape="spline"),
                             name="kdensity", showlegend=False, xaxis=xr, yaxis=yr))
    l, rr, t, b = HIST_BOX[c]
    axes[f"xaxis{k}"] = dict(
        domain=[l / W, rr / W], range=list(HIST_XR[c]), anchor=yr, tickmode="array", tickvals=X_TICKS,
        ticks="outside", ticklen=6, tickwidth=1.3, tickcolor=AXC, showline=True, linecolor="#333",
        linewidth=1.8, showgrid=False, zeroline=False, tickfont=dict(family=FONT, size=18, color="#333"))
    axes[f"yaxis{k}"] = dict(
        domain=[1 - b / H, 1 - t / H], range=list(HIST_YR[c]), anchor=xr, tickmode="array",
        tickvals=HIST_TICKS[c], ticktext=HIST_LABELS[c], tickangle=-90, ticks="outside", ticklen=7,
        tickwidth=1.3, tickcolor=AXC, showline=True, linecolor="#333", linewidth=1.8, showgrid=True,
        gridcolor="#e6eef0", gridwidth=1.6, zeroline=False, tickfont=dict(family=FONT, size=19, color="#333"))
    label(l - 42, (t + b) / 2, "Density", 19, anchor="center", angle=-90)
    label((l + min(rr, l + 513)) / 2, b + 42, "Amount offered", 18.5, anchor="center")

    # column titles
    label(TITLE_X[c], 29, "<b>" + COL_TITLES[c] + "</b>", 30, anchor="center", color="#111")
    label(TITLE_X[c], 68, "<b>" + COL_SUBTITLES[c] + "</b>", 30, anchor="center", color="#111")

fig.update_layout(width=W, height=H, margin=dict(l=0, r=0, t=0, b=0, pad=0),
                  paper_bgcolor="white", plot_bgcolor="rgba(0,0,0,0)", showlegend=False,
                  shapes=shapes, annotations=annots, bargap=0, **axes)

fig.write_html("out.html", config={"displayModeBar": False},
               post_script="document.body.style.margin='0';document.body.style.overflow='hidden';")
